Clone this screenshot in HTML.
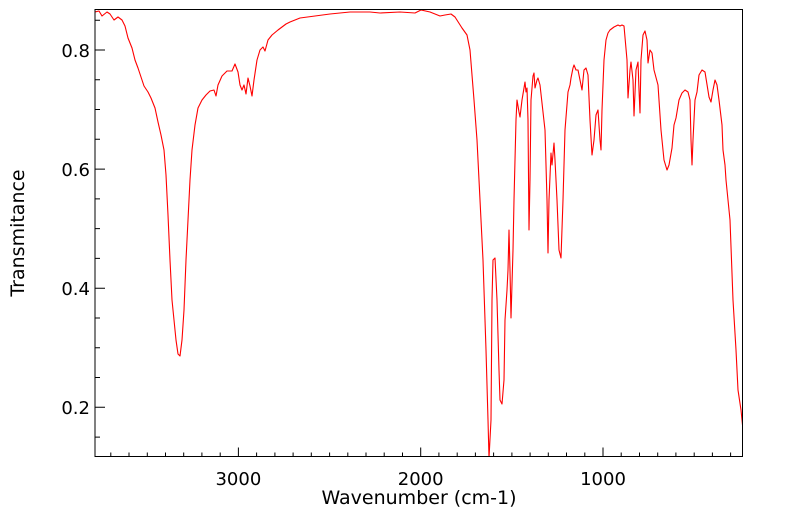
<!DOCTYPE html>
<html><head><meta charset="utf-8"><style>body{margin:0;background:#fff}svg{display:block}</style></head><body>
<svg width="799" height="516" xmlns="http://www.w3.org/2000/svg" font-family="DejaVu Sans, Liberation Sans, sans-serif">
<rect width="799" height="516" fill="#fff"/>
<defs><clipPath id="c"><rect x="95" y="9.5" width="647.5" height="447"/></clipPath></defs>
<path clip-path="url(#c)" fill="none" stroke="#ff0000" stroke-width="1.1" stroke-linejoin="round" d="M95,12 L99,11 102,16 107,12 110,14 114,20 118,17 122,20 125,26 128,38 132,48 135,60 138,68 142,80 144,86 148,92 151,98 155,108 158,122 161,135 164,150 166,175 168,215 170,260 172,300 174,320 176,340 178,354 180,356 182,340 184,310 186,260 188,220 190,180 192,150 195,125 198,108 202,100 206,95 210,91 214,90 216,96 218,85 222,76 227,71 232,71 235,64 238,72 240,85 242,90 244,85 246,94 248,78 250,86 252,96 254,80 257,60 260,50 263,47 265,51 268,40 272,35 278,30 286,24 290,22 300,18 330,14 350,12 370,12 380,13 400,12 415,13 421,10 430,12 440,16 445,15 451,14 455,17 462,28 467,35 470,50 474,100 477,140 480,200 483,260 486,350 488,420 489,458 491,420 492,300 493,260 495,258 497,300 499,370 500,400 502,404 504,380 505,320 507,290 508,270 509,230 510,270 511,318 513,250 514,200 516,120 517,100 519,112 520,117 522,100 524,88 525,82 526,92 527,88 528,120 529,230 530,180 531,100 533,76 534,73 535,88 537,80 538,78 540,85 545,130 547,200 548,253 549,200 551,153 552,165 554,143 555,160 557,200 559,250 561,258 563,200 565,130 568,92 570,85 571,78 573,68 574,65 576,70 578,70 580,80 582,90 584,70 586,68 588,75 590,120 592,155 594,140 596,115 598,110 600,140 601,150 602,110 604,60 606,40 608,33 610,30 614,27 618,25 620,26 622,25 624,26 627,60 628,98 630,70 631,62 633,80 634,116 636,70 638,62 639,90 640,113 641,60 643,35 645,31 647,40 648,63 650,50 652,53 654,70 658,85 661,130 664,160 667,170 669,165 672,148 674,125 676,118 679,100 682,93 685,90 688,92 690,100 691,140 692,165 693,140 695,100 697,92 699,75 702,70 705,72 709,97 711,102 713,90 715,80 717,85 719,100 722,125 723,150 725,165 726,180 728,200 730,220 733,300 736,350 738,390 741,410 742.5,425"/>
<g stroke="#000" stroke-width="1">
<path d="M95,437.1h5M95,407.3h10M95,377.5h5M95,347.8h5M95,318h5M95,288.2h10M95,258.4h5M95,228.6h5M95,198.9h5M95,169.1h10M95,139.3h5M95,109.5h5M95,79.7h5M95,50h10M95,20.2h5"/>
<path d="M730.6,456.5v-4M712.4,456.5v-4M694.2,456.5v-4M675.9,456.5v-4M657.7,456.5v-4M639.5,456.5v-4M621.2,456.5v-4M603,456.5v-9M584.8,456.5v-4M566.5,456.5v-4M548.3,456.5v-4M530.1,456.5v-4M511.9,456.5v-4M493.6,456.5v-4M475.4,456.5v-4M457.2,456.5v-4M438.9,456.5v-4M420.7,456.5v-9M402.5,456.5v-4M384.2,456.5v-4M366,456.5v-4M347.8,456.5v-4M329.6,456.5v-4M311.3,456.5v-4M293.1,456.5v-4M274.9,456.5v-4M256.6,456.5v-4M238.4,456.5v-9M220.2,456.5v-4M201.9,456.5v-4M183.7,456.5v-4M165.5,456.5v-4M147.3,456.5v-4M129,456.5v-4M110.8,456.5v-4"/>
</g>
<rect x="95" y="9.5" width="647.5" height="447" fill="none" stroke="#000" stroke-width="1"/>
<g font-size="18" fill="#000">
<text x="90" y="414" text-anchor="end">0.2</text>
<text x="90" y="295" text-anchor="end">0.4</text>
<text x="90" y="176" text-anchor="end">0.6</text>
<text x="90" y="57" text-anchor="end">0.8</text>
<text x="238.4" y="485" text-anchor="middle">3000</text>
<text x="420.7" y="485" text-anchor="middle">2000</text>
<text x="603" y="485" text-anchor="middle">1000</text>
<text x="419" y="504" text-anchor="middle" font-size="19">Wavenumber (cm-1)</text>
<text transform="translate(24,233) rotate(-90)" text-anchor="middle" font-size="19">Transmitance</text>
</g>
</svg>
</body></html>
